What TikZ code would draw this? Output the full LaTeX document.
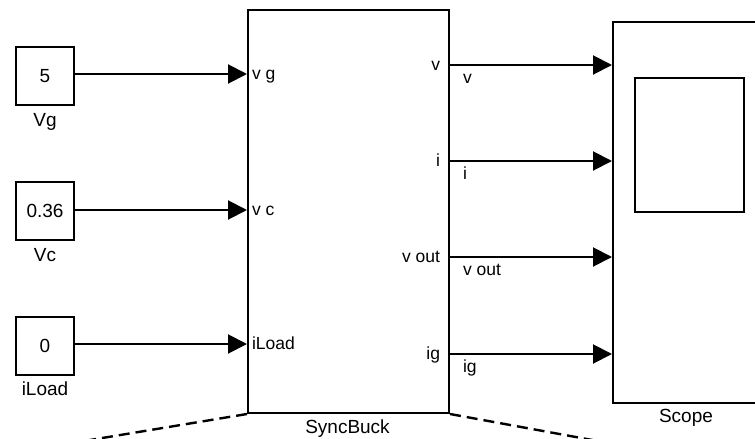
\documentclass[tikz,border=0pt]{standalone}
\usepackage{fontspec}
\setmainfont{Liberation Sans}
\usetikzlibrary{arrows.meta}
\begin{document}
\begin{tikzpicture}[x=1pt,y=-1pt,line width=2pt,
  blk/.style={draw,rectangle,inner sep=0pt},
  big/.style={font=\fontsize{19}{21}\selectfont,inner sep=0pt},
  small/.style={font=\fontsize{17.5}{19}\selectfont,inner sep=0pt},
  sig/.style={-{Triangle[length=19pt,width=19pt]}},
  link/.style={line width=2.4pt,dash pattern=on 11pt off 6pt}]
\useasboundingbox (0,0) rectangle (755,439);
\clip (0,0) rectangle (755,439);
% constant blocks
\node[blk,big,minimum width=58pt,minimum height=58pt] (cvg) at (45,76) {5};
\node[blk,big,minimum width=58pt,minimum height=58pt] (cvc) at (45,211) {0.36};
\node[blk,big,minimum width=58pt,minimum height=58pt] (cil) at (45,345.5) {0};
\node[big,anchor=base] (lvg) at (45,126) {Vg};
\node[big,anchor=base] (lvc) at (45,261) {Vc};
\node[big,anchor=base] (lil) at (45,395) {iLoad};
% SyncBuck
\node[blk,minimum width=201pt,minimum height=403pt,anchor=north west] (sb) at (247,9) {};
\node[big,anchor=base] (lsb) at (347.5,433) {SyncBuck};
% Scope
\node[blk,minimum width=148pt,minimum height=381pt,anchor=north west] (scope) at (612,21) {};
\node[blk,minimum width=109pt,minimum height=134pt,anchor=north west] (screen) at (634,77) {};
\node[big,anchor=base] (lsc) at (686,422) {Scope};
% input ports
\coordinate (pvg) at (247,74);
\coordinate (pvc) at (247,210);
\coordinate (pil) at (247,344);
\draw[sig] (cvg.east |- pvg) -- (pvg);
\draw[sig] (cvc.east |- pvc) -- (pvc);
\draw[sig] (cil.east |- pil) -- (pil);
\node[small,anchor=base west] (tvg) at (251,79.5) {v g};
\node[small,anchor=base west] (tvc) at (251,215.5) {v c};
\node[small,anchor=base west] (til) at (251,349.5) {iLoad};
% output ports
\coordinate (ov) at (448,65);
\coordinate (oi) at (448,161);
\coordinate (ovo) at (448,257);
\coordinate (oig) at (448,354);
\draw[sig] (ov) -- (scope.west |- ov);
\draw[sig] (oi) -- (scope.west |- oi);
\draw[sig] (ovo) -- (scope.west |- ovo);
\draw[sig] (oig) -- (scope.west |- oig);
\node[small,anchor=base east] (tv) at (441,70.3) {v};
\node[small,anchor=base east] (ti) at (441,166.3) {i};
\node[small,anchor=base east] (tvo) at (441,262.3) {v out};
\node[small,anchor=base east] (tig) at (441,359.3) {ig};
\node[small,anchor=base west] (sv) at (462,83.3) {v};
\node[small,anchor=base west] (si) at (462,179.3) {i};
\node[small,anchor=base west] (svo) at (462,275.3) {v out};
\node[small,anchor=base west] (sig2) at (462,372.3) {ig};
% dashed links
\coordinate (dl) at (60,445);
\coordinate (dr) at (625,446);
\draw[link] (sb.south west) -- (dl);
\draw[link] (sb.south east) -- (dr);
\end{tikzpicture}
\end{document}
